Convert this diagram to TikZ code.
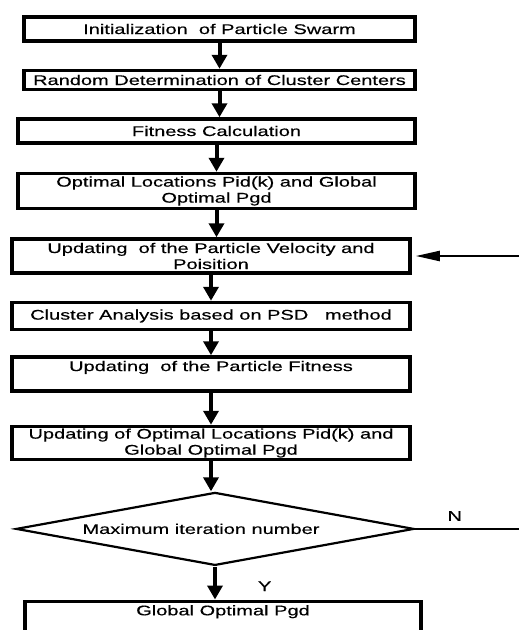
\documentclass[tikz,border=0pt]{standalone}
\usepackage{fontspec}
\setmainfont[FakeStretch=1.43,FakeBold=0.4]{Liberation Sans}
\usetikzlibrary{positioning,arrows.meta,shapes.geometric}
\tikzset{
  stepb/.style={draw, line width=3.5pt, align=center, inner sep=2pt, minimum width=#1},
  stepb/.default=398pt,
  decb/.style={draw, diamond, line width=2.2pt, aspect=5.3, minimum width=398pt, minimum height=73pt, inner sep=0pt},
  arr/.style={-{Triangle[length=14pt,width=15pt]}, line width=4pt},
  fb/.style={-{Triangle[length=24pt,width=10pt]}, line width=2.2pt},
  lab/.style={inner sep=1pt},
}

\begin{document}
\begin{tikzpicture}[font=\fontsize{14}{16}\selectfont]
  \useasboundingbox (0,0) rectangle (519pt,-630pt);
  \node[stepb=391pt, minimum height=24pt] (init) at (219.5pt,-29pt) {Initialization~ of Particle Swarm};
  \node[stepb=391pt, minimum height=19pt, below=26pt of init] (rand) {Random Determination of Cluster Centers};
  \node[stepb=397pt, minimum height=24pt, below=26pt of rand, xshift=-3pt] (fit) {Fitness Calculation};
  \node[stepb=397pt, minimum height=35pt, below=27pt of fit] (opt) {Optimal Locations Pid(k) and Global\\Optimal Pgd};
  \node[stepb, minimum height=34pt, below=27pt of opt, xshift=-5.5pt] (vel) {Updating~ of the Particle Velocity and\\Poisition};
  \node[stepb, minimum height=27pt, below=26pt of vel] (clu) {Cluster Analysis based on PSD~~ method};
  \node[stepb, minimum height=34pt, below=24pt of clu] (upfit) {Updating~ of the Particle Fitness\\~};
  \node[stepb, minimum height=33pt, below=32pt of upfit] (upopt) {Updating of Optimal Locations Pid(k) and\\Global Optimal Pgd};
  \node[decb, below=30pt of upopt, xshift=4pt] (maxit) {Maximum iteration number\hspace*{28pt}};
  \node[stepb=396pt, minimum height=34pt, below=33pt of maxit, xshift=8pt] (glob) {Global Optimal Pgd\\~};
  \coordinate[right=107pt of maxit.east] (loop);
  \draw[arr] (init.south) -- (init.south |- rand.north);
  \draw[arr] (rand.south) -- (rand.south |- fit.north);
  \draw[arr] (fit.south) -- (fit.south |- opt.north);
  \draw[arr] (opt.south) -- (opt.south |- vel.north);
  \draw[arr] (vel.south) -- (vel.south |- clu.north);
  \draw[arr] (clu.south) -- (clu.south |- upfit.north);
  \draw[arr] (upfit.south) -- (upfit.south |- upopt.north);
  \draw[arr] (upopt.south) -- (upopt.south |- maxit.north);
  \draw[arr] (maxit.south) -- node[lab, right=40pt, pos=0.6] {Y} (maxit.south |- glob.north);
  \draw[fb] (maxit.east) -- node[lab, above=6pt, pos=0.37] {N} (loop) |- ([xshift=4pt]vel.east);
\end{tikzpicture}
\end{document}
